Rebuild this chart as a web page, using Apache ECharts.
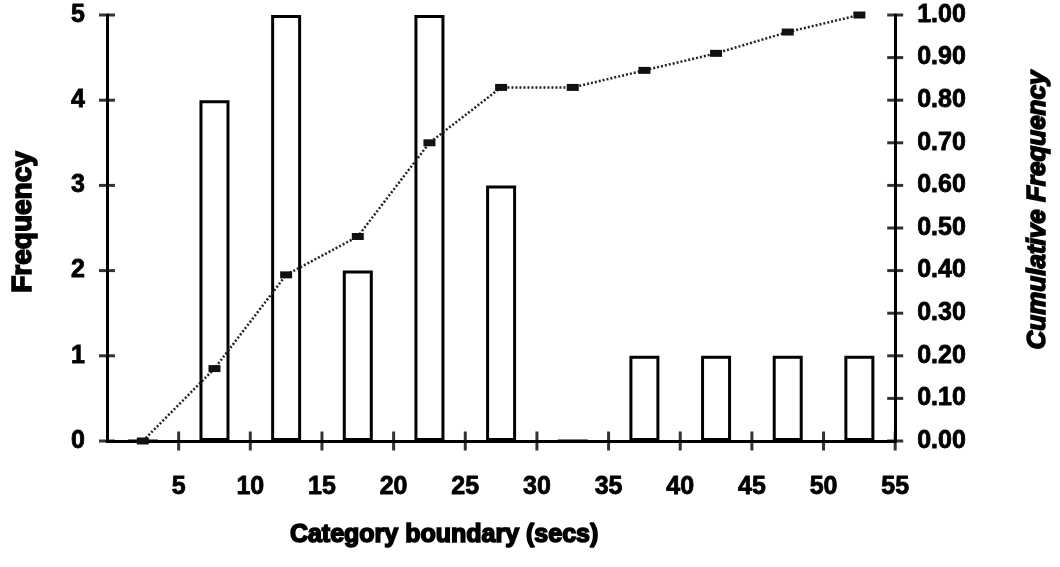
<!DOCTYPE html>
<html>
<head>
<meta charset="utf-8">
<script src="https://cdn.jsdelivr.net/npm/echarts@6/dist/echarts.min.js"></script>
<style>html,body{margin:0;padding:0;background:#fff}#c{width:1060px;height:567px}</style>
</head>
<body>
<div id="c"></div>
<script>
var binCenters = [2.5, 7.5, 12.5, 17.5, 22.5, 27.5, 32.5, 37.5, 42.5, 47.5, 52.5];
var frequency  = [0, 4, 5, 2, 5, 3, 0, 1, 1, 1, 1];
var cumulative = [0, 0.17, 0.39, 0.48, 0.70, 0.83, 0.83, 0.87, 0.91, 0.96, 1.00];
var xTickValues = [5, 10, 15, 20, 25, 30, 35, 40, 45, 50, 55];
var yLeftTickValues = [0, 1, 2, 3, 4, 5];
var yRightTickValues = [0, 0.1, 0.2, 0.3, 0.4, 0.5, 0.6, 0.7, 0.8, 0.9, 1.0];
var xRange = { min: 0, max: 55, interval: 5 };
var yLeft = { min: 0, max: 5, interval: 1 };
var yRight = { min: 0, max: 1, interval: 0.1 };

var FONT = '"Liberation Sans", Arial, sans-serif';
var lbl = { color: '#000', fontFamily: FONT, fontWeight: 'bold', fontSize: 25, textBorderColor: '#000', textBorderWidth: 0.8 };
var ttl = { color: '#000', fontFamily: FONT, fontWeight: 'bold', textBorderColor: '#000', textBorderWidth: 1.6 };

var chart = echarts.init(document.getElementById('c'), null, { renderer: 'canvas' });
var freqPairs = binCenters.map(function (x, i) { return [x, frequency[i]]; });
var cumPairs = binCenters.map(function (x, i) { return [x, cumulative[i]]; });

// cross-shaped axis ticks, placed through the axes' own scales
function tickSeries(points, yIdx, size) {
  return {
    type: 'scatter', xAxisIndex: 0, yAxisIndex: yIdx, data: points,
    symbol: 'rect', symbolSize: size, clip: false, silent: true,
    itemStyle: { color: '#000' }, z: 5
  };
}

chart.setOption({
  animation: false,
  backgroundColor: '#fff',
  grid: { left: 107, right: 162, top: 15, bottom: 126, containLabel: false },
  xAxis: {
    type: 'value', min: xRange.min, max: xRange.max, interval: xRange.interval, position: 'bottom',
    name: 'Category boundary (secs)', nameLocation: 'middle', nameGap: 82,
    nameTextStyle: Object.assign({ fontSize: 25, padding: [0, 114, 0, 0] }, ttl),
    axisLine: { show: true, onZero: false, lineStyle: { color: '#000', width: 3 } },
    axisTick: { show: false },
    axisLabel: Object.assign({ margin: 34, formatter: function (v) { return v === 0 ? '' : String(v); } }, lbl),
    splitLine: { show: false }
  },
  yAxis: [
    {
      type: 'value', min: yLeft.min, max: yLeft.max, interval: yLeft.interval, position: 'left',
      name: 'Frequency', nameLocation: 'middle', nameGap: 70, nameRotate: 90,
      nameTextStyle: Object.assign({ fontSize: 28, padding: [0, 0, 0, 12] }, ttl),
      axisLine: { show: true, onZero: false, lineStyle: { color: '#000', width: 3 } },
      axisTick: { show: false },
      axisLabel: Object.assign({ margin: 22 }, lbl),
      splitLine: { show: false }
    },
    {
      type: 'value', min: yRight.min, max: yRight.max, interval: yRight.interval, position: 'right',
      name: 'Cumulative Frequency', nameLocation: 'middle', nameGap: 130, nameRotate: 90,
      nameTextStyle: Object.assign({ fontSize: 26, fontStyle: 'italic', padding: [0, 0, 0, 36] }, ttl),
      axisLine: { show: true, onZero: false, lineStyle: { color: '#000', width: 3 } },
      axisTick: { show: false },
      axisLabel: Object.assign({ margin: 22, formatter: function (v) { return v.toFixed(2); } }, lbl),
      splitLine: { show: false }
    }
  ],
  series: [
    {
      type: 'bar', xAxisIndex: 0, yAxisIndex: 0, data: freqPairs, barWidth: 30,
      itemStyle: { color: '#fff', borderColor: '#000', borderWidth: 3 },
      z: 2
    },
    {
      type: 'line', xAxisIndex: 0, yAxisIndex: 1, data: cumPairs,
      symbol: 'rect', symbolSize: [12, 7],
      itemStyle: { color: '#111' },
      lineStyle: { color: '#222', width: 2.5, type: [2, 2] },
      z: 3
    },
    tickSeries(xTickValues.map(function (v) { return [v, yLeft.min]; }), 0, [3, 19]),
    tickSeries(yLeftTickValues.map(function (v) { return [xRange.min, v]; }), 0, [16, 3]),
    tickSeries(yRightTickValues.map(function (v) { return [xRange.max, v]; }), 1, [16, 3])
  ]
});
</script>
</body>
</html>
